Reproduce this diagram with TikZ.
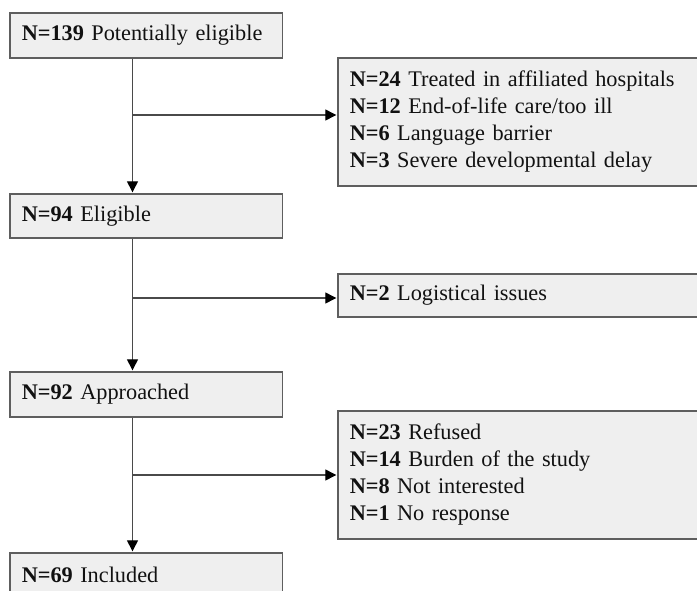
\documentclass[tikz,border=0pt]{standalone}
\usepackage{fontspec}
\setmainfont{Liberation Serif}
\usetikzlibrary{arrows.meta}
\definecolor{boxfill}{HTML}{EFEFEF}
\definecolor{boxline}{HTML}{5E5E5E}
\definecolor{conn}{HTML}{4A4A4A}
\definecolor{txt}{HTML}{111111}
\begin{document}
\begin{tikzpicture}[x=1pt,y=-1pt,
  box/.style={draw=boxline, line width=1.5pt, fill=boxfill, rectangle, anchor=north west,
    inner xsep=12pt, inner ysep=0pt, align=left, text=txt,
    font=\fontsize{22.3}{27}\selectfont},
  leftbox/.style={box, text width=248.5pt},
  rightbox/.style={box, text width=359pt},
  conline/.style={draw=conn, line width=1.3pt},
  arr/.style={conline, -{Triangle[length=11pt,width=11pt,color=black]}, shorten >=0.7pt}]
\useasboundingbox (0,0) rectangle (697,590);
\clip (0,0) rectangle (697,590);

\node[leftbox, minimum height=45pt] (b1) at (9,12) {\textbf{N=139} Potentially eligible};
\node[leftbox, minimum height=44pt] (b2) at (9,193) {\textbf{N=94} Eligible};
\node[leftbox, minimum height=45pt] (b3) at (9,371) {\textbf{N=92} Approached};
\node[leftbox, minimum height=45pt] (b4) at (9,552) {\textbf{N=69} Included};

\node[rightbox, minimum height=128pt] (r1) at (337,57) {\textbf{N=24} Treated in affiliated hospitals\\\textbf{N=12} End-of-life care/too ill\\\textbf{N=6} Language barrier\\\textbf{N=3} Severe developmental delay};
\node[rightbox, minimum height=43pt] (r2) at (337,273) {\textbf{N=2} Logistical issues};
\node[rightbox, minimum height=128pt] (r3) at (337,410) {\textbf{N=23} Refused\\\textbf{N=14} Burden of the study\\\textbf{N=8} Not interested\\\textbf{N=1} No response};

\coordinate (t) at (132.5,0);
\coordinate (j1) at (132.5,115);
\coordinate (j2) at (132.5,298);
\coordinate (j3) at (132.5,475);

\draw[arr] (t |- b1.south) -- (t |- b2.north);
\draw[arr] (t |- b2.south) -- (t |- b3.north);
\draw[arr] (t |- b3.south) -- (t |- b4.north);
\draw[arr] (j1) -- (j1 -| r1.west);
\draw[arr] (j2) -- (j2 -| r2.west);
\draw[arr] (j3) -- (j3 -| r3.west);
\end{tikzpicture}
\end{document}
